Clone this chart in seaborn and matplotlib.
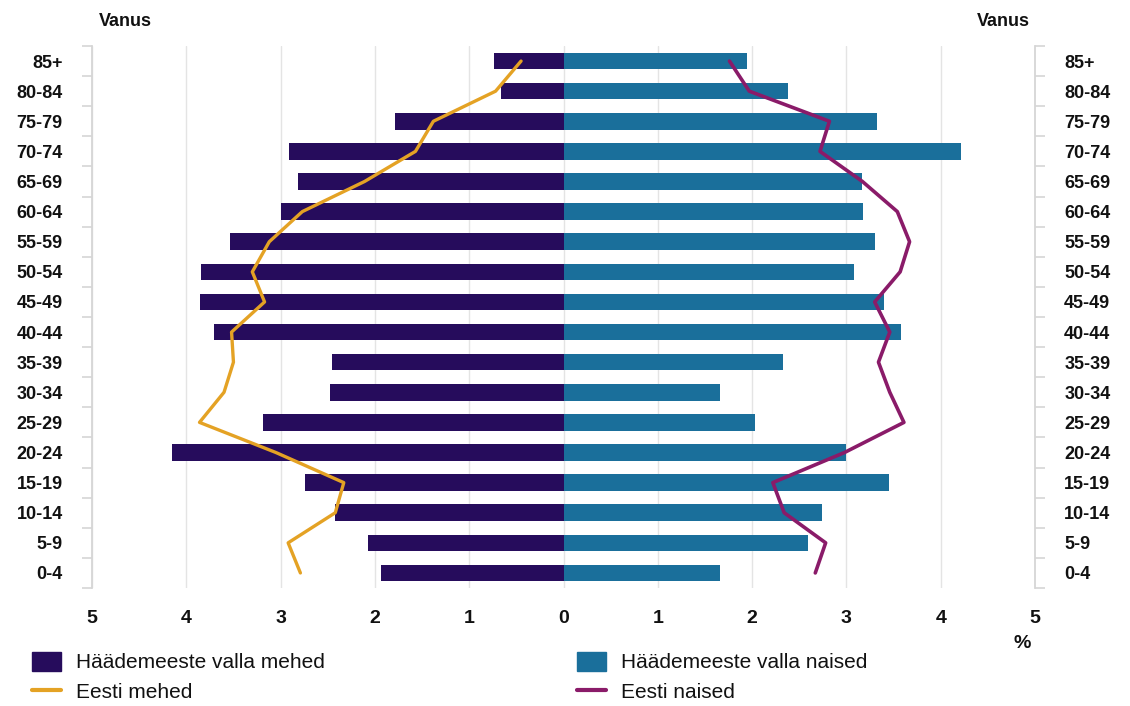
import numpy as np
import pandas as pd
import matplotlib
matplotlib.use("Agg")
import matplotlib.pyplot as plt
import seaborn as sns
from matplotlib.patches import Patch
from matplotlib.lines import Line2D

# ---- data (top to bottom) ----
ages = ["85+", "80-84", "75-79", "70-74", "65-69", "60-64", "55-59", "50-54",
        "45-49", "40-44", "35-39", "30-34", "25-29", "20-24", "15-19", "10-14",
        "5-9", "0-4"]
haademeeste_mehed = [0.74, 0.66, 1.79, 2.91, 2.82, 3.00, 3.54, 3.84, 3.86,
                     3.71, 2.46, 2.48, 3.19, 4.15, 2.74, 2.42, 2.07, 1.94]
haademeeste_naised = [1.95, 2.38, 3.32, 4.21, 3.17, 3.18, 3.30, 3.08, 3.40,
                      3.58, 2.33, 1.66, 2.03, 3.00, 3.45, 2.74, 2.59, 1.66]
eesti_mehed = [0.45, 0.72, 1.38, 1.57, 2.11, 2.77, 3.12, 3.30, 3.17,
               3.52, 3.50, 3.60, 3.86, 3.05, 2.33, 2.42, 2.92, 2.79]
eesti_naised = [1.76, 1.97, 2.82, 2.72, 3.17, 3.54, 3.67, 3.57, 3.30,
                3.46, 3.34, 3.46, 3.61, 2.98, 2.22, 2.34, 2.78, 2.67]
x_ticks = [-5, -4, -3, -2, -1, 0, 1, 2, 3, 4, 5]

lbl_m = "Häädemeeste valla mehed"
lbl_w = "Häädemeeste valla naised"
lbl_lm = "Eesti mehed"
lbl_lw = "Eesti naised"

c_m = "#260c5c"
c_w = "#1a6f9b"
c_lm = "#e4a224"
c_lw = "#8a1b69"

sns.set_theme(style="white")
plt.rcParams["font.family"] = ["Liberation Sans", "DejaVu Sans"]
plt.rcParams["text.color"] = "#111111"
plt.rcParams["xtick.color"] = "#111111"
plt.rcParams["ytick.color"] = "#111111"

df = pd.DataFrame({
    "age": ages * 2,
    "value": [-v for v in haademeeste_mehed] + list(haademeeste_naised),
    "group": [lbl_m] * len(ages) + [lbl_w] * len(ages),
})

fig = plt.figure(figsize=(11.3, 7.06), dpi=100)
ax = fig.add_axes([92 / 1130, 1 - 588 / 706, (1035 - 92) / 1130, (588 - 46) / 706])

sns.barplot(data=df, x="value", y="age", hue="group", order=ages,
            palette={lbl_m: c_m, lbl_w: c_w}, orient="h", dodge=False,
            width=0.55, legend=False, saturation=1, linewidth=0,
            ax=ax, zorder=2)

pos = np.arange(len(ages))
sns.lineplot(x=-np.array(eesti_mehed), y=pos, sort=False, estimator=None,
             color=c_lm, lw=2.4, ax=ax, zorder=3)
sns.lineplot(x=np.array(eesti_naised), y=pos, sort=False, estimator=None,
             color=c_lw, lw=2.6, ax=ax, zorder=3)

ax.set_xlim(-5, 5)
ax.set_ylim(len(ages) - 0.5, -0.5)
ax.set_xlabel("")
ax.set_ylabel("")

ax.set_xticks(x_ticks)
ax.set_xticklabels([str(abs(v)) for v in x_ticks], fontsize=14, fontweight="bold")
ax.tick_params(axis="x", length=0, pad=16, labelcolor="#111111")

ax.set_yticks(pos)
ax.set_yticklabels(ages, fontsize=13, fontweight="bold")
ax.tick_params(axis="y", which="major", length=0, labelleft=True,
               labelright=True, pad=21, labelcolor="#111111")
ax.set_yticks(np.arange(-0.5, len(ages) + 0.5, 1), minor=True)
ax.tick_params(axis="y", which="minor", left=True, right=True, length=7,
               width=1.2, color="#d6d6d6", direction="out")

for s in ["top", "bottom"]:
    ax.spines[s].set_visible(False)
for s in ["left", "right"]:
    ax.spines[s].set_color("#d6d6d6")
    ax.spines[s].set_linewidth(1.3)

ax.xaxis.grid(True, color="#e4e4e4", lw=1)
ax.yaxis.grid(False)
ax.set_axisbelow(True)

fig.text(125 / 1130, 1 - 22 / 706, "Vanus", ha="center", va="center",
         fontsize=13, fontweight="bold")
fig.text(1003 / 1130, 1 - 22 / 706, "Vanus", ha="center", va="center",
         fontsize=13, fontweight="bold")
fig.text(1022 / 1130, 1 - 643 / 706, "%", ha="center", va="center",
         fontsize=14, fontweight="bold")

leg_kw = dict(loc="upper left", frameon=False, fontsize=15, handlelength=1.4,
              handleheight=1.0, handletextpad=0.7, labelspacing=0.45,
              borderaxespad=0, borderpad=0, labelcolor="#111111")
fig.legend(handles=[Patch(color=c_m), Line2D([], [], color=c_lm, lw=3)],
           labels=[lbl_m, lbl_lm], bbox_to_anchor=(32 / 1130, 1 - 652 / 706), **leg_kw)
fig.legend(handles=[Patch(color=c_w), Line2D([], [], color=c_lw, lw=3)],
           labels=[lbl_w, lbl_lw], bbox_to_anchor=(577 / 1130, 1 - 652 / 706), **leg_kw)

fig.savefig("out.png", dpi=100)
